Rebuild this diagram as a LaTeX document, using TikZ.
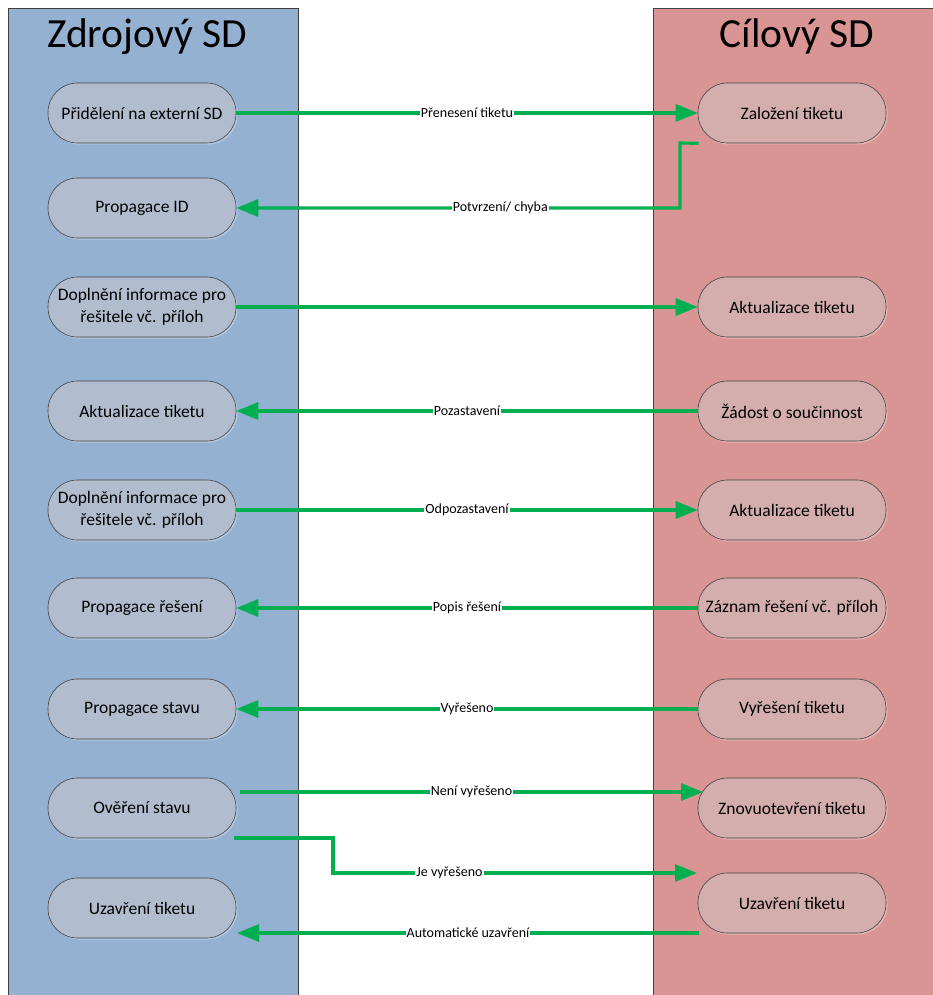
\documentclass[tikz,border=0pt]{standalone}
\usepackage{fontspec}
\setmainfont{Carlito}
\usetikzlibrary{arrows.meta,calc,shadows}
\definecolor{laneL}{RGB}{149,177,210}
\definecolor{laneR}{RGB}{217,149,148}
\definecolor{pillL}{RGB}{177,189,207}
\definecolor{pillR}{RGB}{212,174,173}
\definecolor{flowgreen}{RGB}{0,176,80}
\definecolor{bdr}{RGB}{64,64,64}
\begin{document}
\begin{tikzpicture}[x=1pt,y=-1pt,
  lane/.style={draw=bdr,line width=0.9pt},
  title/.style={font=\fontsize{41.5}{45}\selectfont,anchor=base,inner sep=0pt},
  pill/.style={draw=bdr,line width=0.6pt,rounded corners=29.5pt,minimum width=188pt,minimum height=60pt,
    inner sep=0pt,align=center,font=\fontsize{17.5}{21.5}\selectfont,
    drop shadow={shadow xshift=1.5pt,shadow yshift=-1.5pt,fill=white,opacity=0.3}},
  pillLeft/.style={pill,fill=pillL},
  pillRight/.style={pill,fill=pillR},
  flow/.style={draw=flowgreen,line width=3.2pt,-{Triangle[length=22pt,width=17pt]}},
  lbl/.style={fill=white,inner sep=1pt,font=\fontsize{14}{16}\selectfont,text=black}
]
\useasboundingbox (0,0) rectangle (933,995);
\begin{scope}
\clip (0,0) rectangle (933,995);
\draw[lane,fill=laneL] (8,8) rectangle (298,1010);
\draw[lane,fill=laneR] (653,8) rectangle (950,1010);
\end{scope}
\node[title] (tL) at (147,48) {Zdrojový SD};
\node[title] (tR) at (797,48) {Cílový SD};

% left nodes
\node[pillLeft] (L1) at (142,113) {Přidělení na externí SD};
\node[pillLeft] (L2) at (142,208) {Propagace ID};
\node[pillLeft] (L3) at (142,307) {Doplnění informace pro\\řešitele vč. příloh};
\node[pillLeft] (L4) at (142,411) {Aktualizace tiketu};
\node[pillLeft] (L5) at (142,510) {Doplnění informace pro\\řešitele vč. příloh};
\node[pillLeft] (L6) at (142,608) {Propagace řešení};
\node[pillLeft] (L7) at (142,709) {Propagace stavu};
\node[pillLeft] (L8) at (142,808) {Ověření stavu};
\node[pillLeft] (L9) at (142,908) {Uzavření tiketu};

% right nodes
\node[pillRight] (R1) at (792,113) {Založení tiketu};
\node[pillRight] (R3) at (792,307) {Aktualizace tiketu};
\node[pillRight] (R4) at (792,411) {Žádost o součinnost};
\node[pillRight] (R5) at (792,510) {Aktualizace tiketu};
\node[pillRight] (R6) at (792,608) {Záznam řešení vč. příloh};
\node[pillRight] (R7) at (792,709) {Vyřešení tiketu};
\node[pillRight] (R8) at (792,808) {Znovuotevření tiketu};
\node[pillRight] (R9) at (792,903) {Uzavření tiketu};

% connectors
\draw[flow] (L1.east) -- node[lbl] (c1) {Přenesení tiketu} (R1.west);

\coordinate (k2a) at (680,143);
\coordinate (k2b) at (680,208);
\draw[flow] ($(R1.south west)+(1,0)$) -- (k2a) -- (k2b) -- node[lbl,pos=0.405] (c2) {Potvrzení/ chyba} (L2.east);

\draw[flow] (L3.east) -- (R3.west);
\draw[flow] (R4.west) -- node[lbl] (c4) {Pozastavení} (L4.east);
\draw[flow] (L5.east) -- node[lbl] (c5) {Odpozastavení} (R5.west);
\draw[flow] (R6.west) -- node[lbl] (c6) {Popis řešení} (L6.east);
\draw[flow] (R7.west) -- node[lbl] (c7) {Vyřešeno} (L7.east);

\coordinate (a8s) at (240,792);
\coordinate (a8e) at (703,792);
\draw[flow] (a8s) -- node[lbl] (c8) {Není vyřešeno} (a8e);

\coordinate (a9s) at (234,838);
\coordinate (a9k1) at (333,838);
\coordinate (a9k2) at (333,873);
\coordinate (a9e) at (697,873);
\draw[flow] (a9s) -- (a9k1) -- (a9k2) -- node[lbl,pos=0.32] (c9) {Je vyřešeno} (a9e);

\coordinate (a10s) at (699,933);
\coordinate (a10e) at (237,933);
\draw[flow] (a10s) -- node[lbl] (c10) {Automatické uzavření} (a10e);
\end{tikzpicture}
\end{document}
